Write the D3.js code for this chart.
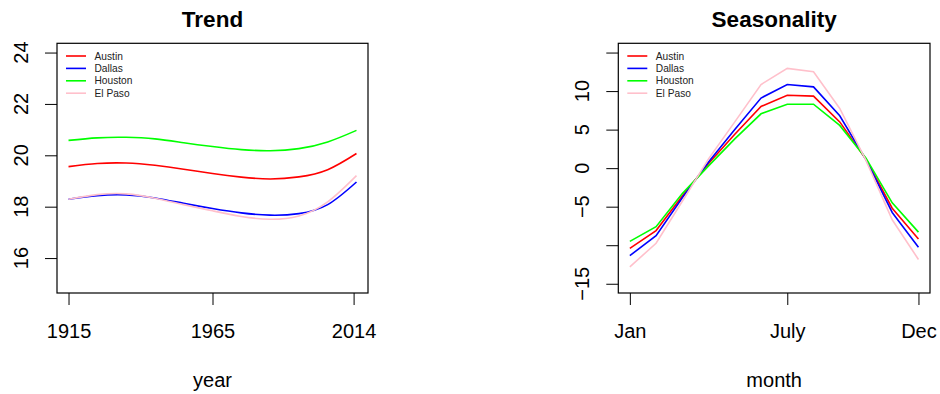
<!DOCTYPE html>
<html>
<head>
<meta charset="utf-8">
<script src="https://cdn.jsdelivr.net/npm/d3@7"></script>
<style>
  html, body { margin: 0; padding: 0; background: #fff; }
  svg { display: block; font-family: "Liberation Sans", Arial, Helvetica, sans-serif; }
</style>
</head>
<body>
<svg id="chart" width="940" height="394"></svg>
<script>
// ---- data ----
const cities = ["Austin", "Dallas", "Houston", "El Paso"];
const cityColors = ["#ff0000", "#0000ff", "#00ff00", "#ffc0cb"];

// smoothed long-term trend (deg C), sampled every ten years
const trendYears = [1915, 1925, 1935, 1945, 1955, 1965, 1975, 1985, 1995, 2005, 2015];
const trendAustin  = [19.56, 19.68, 19.70, 19.61, 19.46, 19.29, 19.15, 19.08, 19.16, 19.44, 20.07];
const trendDallas  = [18.29, 18.43, 18.46, 18.34, 18.13, 17.93, 17.76, 17.67, 17.73, 18.08, 18.96];
const trendHouston = [20.58, 20.68, 20.70, 20.64, 20.49, 20.34, 20.22, 20.18, 20.26, 20.52, 20.97];
const trendElPaso  = [18.29, 18.47, 18.50, 18.33, 18.08, 17.84, 17.62, 17.51, 17.64, 18.19, 19.21];
const trendTicks = [1915, 1965, 2014];
const trendYTicks = [16, 18, 20, 22, 24];

// seasonal component (deg C) by month
const months = [1, 2, 3, 4, 5, 6, 7, 8, 9, 10, 11, 12];
const seasonAustin  = [-10.4, -8.1, -3.6, 0.6, 4.4, 8.0, 9.45, 9.35, 6.0, 1.15, -5.2, -9.2];
const seasonDallas  = [-11.35, -8.75, -3.85, 0.8, 5.0, 9.1, 10.85, 10.55, 6.8, 1.1, -5.75, -10.25];
const seasonHouston = [-9.5, -7.6, -3.3, 0.3, 3.8, 7.05, 8.3, 8.3, 5.55, 1.3, -4.5, -8.3];
const seasonElPaso  = [-12.8, -9.75, -4.3, 1.2, 6.0, 10.85, 12.95, 12.5, 7.75, 1.0, -6.7, -11.85];
const monthTicks = [1, 7, 12];
const monthTickLabels = ["Jan", "July", "Dec"];
const seasonYTicks = [-15, -10, -5, 0, 5, 10, 15];
const seasonYTickLabels = ["\u221215", "", "\u22125", "0", "5", "10", ""];

// ---- drawing ----
const svg = d3.select("#chart");
const plotTop = 43.3, plotBottom = 293;

function panel(opts) {
  const g = svg.append("g");
  const x = d3.scaleLinear().domain(opts.xDomain).range([opts.left, opts.right]);
  const y = d3.scaleLinear().domain(opts.yDomain).range([plotBottom, plotTop]);

  // bottom axis
  const xAxis = d3.axisBottom(x).tickValues(opts.xTicks).tickSize(12).tickPadding(0)
    .tickFormat((d, i) => opts.xLabels[i]);
  const gx = g.append("g").attr("transform", `translate(0,${plotBottom})`).call(xAxis);
  gx.select(".domain").remove();
  gx.selectAll("line").attr("stroke", "#000").attr("stroke-width", 1);
  gx.selectAll("text").attr("font-size", 20).attr("fill", "#000")
    .attr("dy", null).attr("y", 45.3);

  // left axis with rotated labels
  const yAxis = d3.axisLeft(y).tickValues(opts.yTicks).tickSize(12).tickFormat(() => "");
  const gy = g.append("g").attr("transform", `translate(${opts.left},0)`).call(yAxis);
  gy.select(".domain").remove();
  gy.selectAll("line").attr("stroke", "#000").attr("stroke-width", 1);
  g.append("g").selectAll("text").data(opts.yTicks).join("text")
    .attr("transform", (d) => `translate(${opts.left - 29},${y(d)}) rotate(-90)`)
    .attr("text-anchor", "middle").attr("font-size", 20).attr("fill", "#000")
    .text((d, i) => opts.yLabels[i]);

  // lines
  const line = d3.line().x((d) => x(d[0])).y((d) => y(d[1])).curve(opts.curve);
  opts.series.forEach((vals, k) => {
    g.append("path").datum(opts.xs.map((v, i) => [v, vals[i]]))
      .attr("d", line).attr("fill", "none")
      .attr("stroke", cityColors[k]).attr("stroke-width", 1.6);
  });

  // frame
  g.append("rect").attr("x", opts.left).attr("y", plotTop)
    .attr("width", opts.right - opts.left).attr("height", plotBottom - plotTop)
    .attr("fill", "none").attr("stroke", "#000").attr("stroke-width", 1.2);

  // legend
  const lg = g.append("g");
  cities.forEach((c, k) => {
    const yy = 56 + k * 12.4;
    lg.append("line").attr("x1", opts.left + 9).attr("x2", opts.left + 29)
      .attr("y1", yy).attr("y2", yy).attr("stroke", cityColors[k]).attr("stroke-width", 1.6);
    lg.append("text").attr("x", opts.left + 37.5).attr("y", yy + 3.6)
      .attr("font-size", 10.2).attr("fill", "#222").text(c);
  });

  const cx = (opts.left + opts.right) / 2;
  g.append("text").attr("x", cx).attr("y", 26.7).attr("text-anchor", "middle")
    .attr("font-size", 22.5).attr("font-weight", "bold").attr("fill", "#000").text(opts.title);
  g.append("text").attr("x", cx).attr("y", 386.5).attr("text-anchor", "middle")
    .attr("font-size", 20).attr("fill", "#000").text(opts.xTitle);
}

panel({
  left: 57, right: 368,
  xDomain: [1911, 2019], yDomain: [14.64, 24.36],
  xTicks: trendTicks, xLabels: trendTicks.map(String),
  yTicks: trendYTicks, yLabels: trendYTicks.map(String),
  xs: trendYears, series: [trendAustin, trendDallas, trendHouston, trendElPaso],
  curve: d3.curveNatural, title: "Trend", xTitle: "year"
});

panel({
  left: 618.3, right: 930,
  xDomain: [0.56, 12.44], yDomain: [-16.2, 16.2],
  xTicks: monthTicks, xLabels: monthTickLabels,
  yTicks: seasonYTicks, yLabels: seasonYTickLabels,
  xs: months, series: [seasonAustin, seasonDallas, seasonHouston, seasonElPaso],
  curve: d3.curveLinear, title: "Seasonality", xTitle: "month"
});
</script>
</body>
</html>
